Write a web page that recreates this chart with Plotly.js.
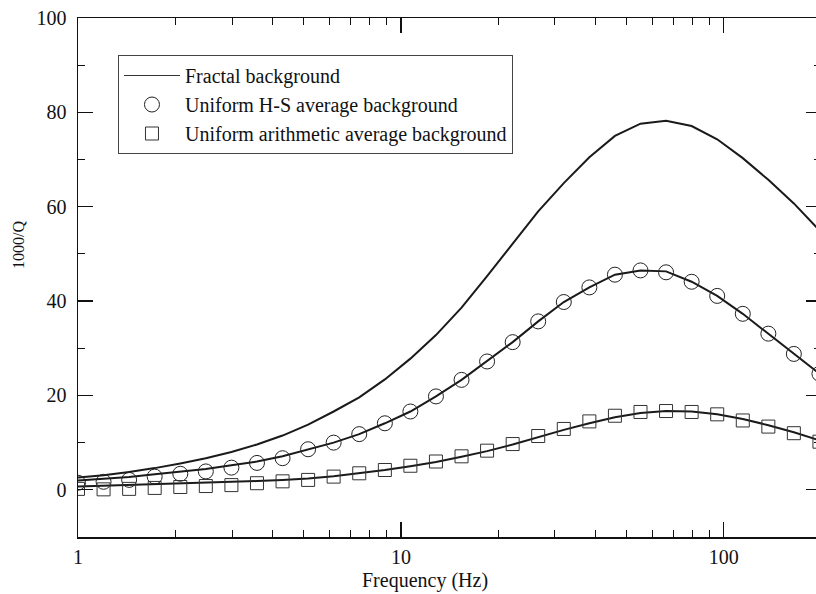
<!DOCTYPE html>
<html>
<head>
<meta charset="utf-8">
<script src="https://cdn.plot.ly/plotly-3.0.1.min.js"></script>
<style>
html,body{margin:0;padding:0;overflow:hidden;background:#fff;}
#chart{width:822px;height:594px;}
</style>
</head>
<body>
<div id="chart"></div>
<script>
// Frequency samples (Hz)
const freq = [1, 1.2, 1.44, 1.728, 2.074, 2.488, 2.986, 3.583, 4.3, 5.16,
  6.19, 7.43, 8.92, 10.7, 12.84, 15.41, 18.49, 22.19, 26.62, 31.95,
  38.34, 46.01, 55.21, 66.25, 79.5, 95.4, 114.5, 137.4, 164.8, 197.8];

// Fractal background curves (1000/Q)
const fractalTop = [2.6, 3.1, 3.8, 4.6, 5.6, 6.7, 8.0, 9.6, 11.5, 13.8,
  16.6, 19.6, 23.4, 27.8, 32.8, 38.6, 45.3, 52.2, 59.0, 65.0,
  70.5, 75.0, 77.6, 78.2, 77.1, 74.3, 70.3, 65.7, 60.7, 55.0];
const fractalMid = [2.0, 2.3, 2.7, 3.3, 3.8, 4.4, 5.2, 6.0, 7.1, 8.6,
  10.0, 11.8, 14.1, 16.6, 19.8, 23.3, 27.2, 31.3, 35.7, 39.8,
  42.9, 45.6, 46.5, 46.3, 44.1, 41.1, 37.3, 33.1, 28.8, 24.6];
const fractalLow = [0.7, 0.85, 0.95, 1.1, 1.25, 1.4, 1.6, 1.85, 2.1, 2.4,
  2.9, 3.5, 4.2, 5.0, 5.9, 7.0, 8.2, 9.6, 11.2, 12.7,
  14.1, 15.4, 16.3, 16.7, 16.6, 16.0, 15.0, 13.7, 12.2, 10.5];

// Uniform H-S average background (circles)
const hsAvg = [1.5, 1.7, 2.1, 2.8, 3.4, 3.9, 4.7, 5.7, 6.7, 8.6,
  10.0, 11.8, 14.1, 16.6, 19.8, 23.3, 27.2, 31.3, 35.7, 39.8,
  42.9, 45.6, 46.5, 46.1, 44.1, 41.1, 37.3, 33.1, 28.8, 24.6];
// Uniform arithmetic average background (squares)
const arithAvg = [0.2, 0.1, 0.2, 0.4, 0.6, 0.8, 1.0, 1.4, 1.8, 2.1,
  2.8, 3.5, 4.2, 5.1, 6.0, 7.1, 8.3, 9.7, 11.4, 12.9,
  14.5, 15.7, 16.5, 16.7, 16.5, 16.0, 14.7, 13.4, 12.0, 10.2];

const names = ["Fractal background", "Uniform H-S average background", "Uniform arithmetic average background"];
const xTicks = [1, 10, 100];
const xTickText = ["1", "10", "100"];
const xMinorTicks = [2, 3, 4, 5, 6, 7, 8, 9, 20, 30, 40, 50, 60, 70, 80, 90, 200];

const serif = "Liberation Serif, Times New Roman, serif";
const lineStyle = {color: "#1a1a1a", width: 2};

const traces = [
  {x: freq, y: fractalTop, mode: "lines", line: lineStyle, showlegend: false},
  {x: freq, y: fractalMid, mode: "lines", line: lineStyle, showlegend: false},
  {x: freq, y: fractalLow, mode: "lines", line: lineStyle, showlegend: false},
  // legend entry for the fractal curves (thin sample line, no data)
  {x: [null], y: [null], mode: "lines", line: {color: "#333", width: 1}, name: names[0]},
  {x: freq, y: hsAvg, mode: "markers", name: names[1],
   marker: {symbol: "circle-open", size: 15, color: "#222", line: {width: 1, color: "#222"}}},
  {x: freq, y: arithAvg, mode: "markers", name: names[2],
   marker: {symbol: "square-open", size: 13, color: "#333", line: {width: 1, color: "#333"}}}
];

const layout = {
  width: 822, height: 594,
  margin: {l: 78, r: 1, t: 18, b: 57},
  paper_bgcolor: "#fff", plot_bgcolor: "#fff",
  font: {family: serif, size: 20, color: "#111"},
  showlegend: true,
  legend: {
    x: 0.0538, y: 0.9287, xanchor: "left", yanchor: "top",
    bgcolor: "#fff", bordercolor: "#444", borderwidth: 1,
    font: {family: serif, size: 20, color: "#111"},
    itemwidth: 56
  },
  xaxis: {
    type: "log", range: [0, Math.log10(200)],
    tickmode: "array", tickvals: xTicks, ticktext: xTickText,
    ticks: "inside", ticklen: 15, tickwidth: 1.2, tickcolor: "#111",
    showline: true, linecolor: "#111", linewidth: 1.5, mirror: "ticks",
    showgrid: false, zeroline: false,
    minor: {tickmode: "array", tickvals: xMinorTicks, ticks: "inside", ticklen: 7, tickwidth: 1, tickcolor: "#111", showgrid: false},
    ticklabelstandoff: 1
  },
  yaxis: {
    range: [-10, 100], dtick: 20, tick0: 0,
    ticks: "inside", ticklen: 15, tickwidth: 1.2, tickcolor: "#111",
    showline: true, linecolor: "#111", linewidth: 1.5, mirror: "ticks",
    showgrid: false, zeroline: false,
    minor: {ticks: "inside", ticklen: 7, tickwidth: 1, tickcolor: "#111", dtick: 10, showgrid: false},
    ticklabelstandoff: 6
  },
  annotations: [
    {text: "Frequency (Hz)", xref: "paper", yref: "paper", x: 0.467, y: -0.058,
     xanchor: "center", yanchor: "top", showarrow: false,
     font: {family: serif, size: 20, color: "#111"}},
    {text: "1000/Q", xref: "paper", yref: "paper", x: -0.0808, y: 0.5626,
     xanchor: "center", yanchor: "middle", textangle: -90, showarrow: false,
     font: {family: serif, size: 16, color: "#111"}}
  ]
};

Plotly.newPlot("chart", traces, layout, {staticPlot: true});
</script>
</body>
</html>
